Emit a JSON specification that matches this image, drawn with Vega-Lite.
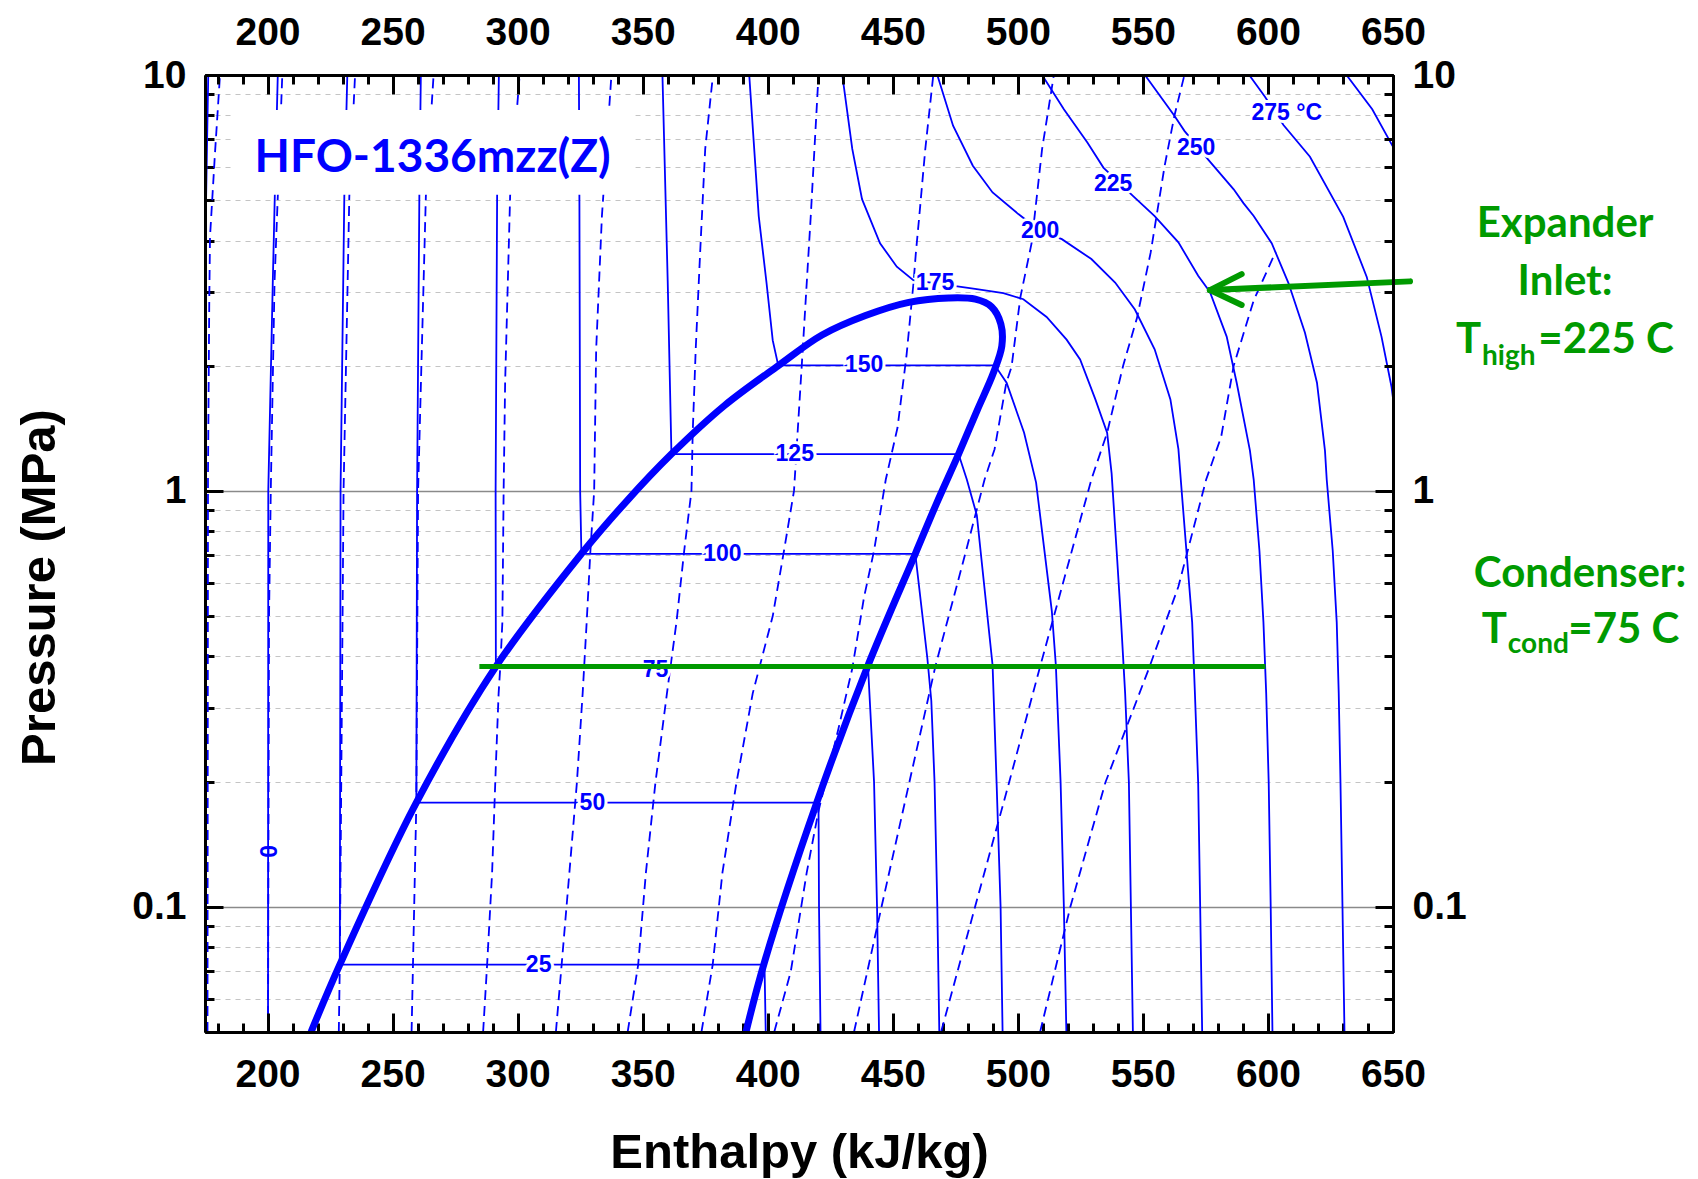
{
  "$schema": "https://vega.github.io/schema/vega-lite/v6.json",
  "width": 1188,
  "height": 957,
  "autosize": "none",
  "padding": {"left": 205, "top": 75, "right": 305, "bottom": 147},
  "background": "white",
  "config": {
    "view": {"stroke": null},
    "axis": {
      "domainColor": "#000000", "domainWidth": 3, "tickColor": "#000000", "tickWidth": 3,
      "labelFont": "Liberation Sans", "labelFontWeight": "bold", "labelFontSize": 39, "labelColor": "#000000",
      "titleFont": "Liberation Sans", "titleFontWeight": "bold", "titleFontSize": 49, "titleColor": "#000000",
      "labelOverlap": false, "labelFlush": false, "labelBound": false
    }
  },
  "datasets": {
    "curves": [
      {"k":"t","g":"-25","i":0,"h":174.8,"P":0.05},{"k":"t","g":"-25","i":1,"h":175.0,"P":1},{"k":"t","g":"-25","i":2,"h":175.4,"P":4.9},{"k":"t","g":"-25","i":3,"h":176.3,"P":10},
      {"k":"t","g":"0","i":0,"h":200.2,"P":0.05},{"k":"t","g":"0","i":1,"h":200.3,"P":1},{"k":"t","g":"0","i":2,"h":202.1,"P":3.17},{"k":"t","g":"0","i":3,"h":202.9,"P":5.1},{"k":"t","g":"0","i":4,"h":204.1,"P":10},
      {"k":"t","g":"25","i":0,"h":231.9,"P":10},{"k":"t","g":"25","i":1,"h":230.7,"P":5.1},{"k":"t","g":"25","i":2,"h":229.2,"P":1},{"k":"t","g":"25","i":3,"h":228.9,"P":0.0726},{"k":"t","g":"25","i":4,"h":398.7,"P":0.0726},{"k":"t","g":"25","i":5,"h":399.2,"P":0.05},
      {"k":"t","g":"50","i":0,"h":261.3,"P":10},{"k":"t","g":"50","i":1,"h":260.7,"P":5.1},{"k":"t","g":"50","i":2,"h":259.8,"P":1},{"k":"t","g":"50","i":3,"h":259.5,"P":0.178},{"k":"t","g":"50","i":4,"h":420.3,"P":0.178},{"k":"t","g":"50","i":5,"h":420.5,"P":0.1},{"k":"t","g":"50","i":6,"h":421.1,"P":0.05},
      {"k":"t","g":"75","i":0,"h":292.5,"P":10},{"k":"t","g":"75","i":1,"h":291.8,"P":5.1},{"k":"t","g":"75","i":2,"h":291.2,"P":1},{"k":"t","g":"75","i":3,"h":291.3,"P":0.378},{"k":"t","g":"75","i":4,"h":440.1,"P":0.378},{"k":"t","g":"75","i":5,"h":442.5,"P":0.2},{"k":"t","g":"75","i":6,"h":443.7,"P":0.1},{"k":"t","g":"75","i":7,"h":444.5,"P":0.05},
      {"k":"t","g":"100","i":0,"h":324.5,"P":10},{"k":"t","g":"100","i":1,"h":324.7,"P":5},{"k":"t","g":"100","i":2,"h":325.0,"P":1},{"k":"t","g":"100","i":3,"h":325.5,"P":0.706},{"k":"t","g":"100","i":4,"h":459.0,"P":0.706},{"k":"t","g":"100","i":5,"h":463.8,"P":0.397},{"k":"t","g":"100","i":6,"h":465.4,"P":0.313},{"k":"t","g":"100","i":7,"h":466.7,"P":0.199},{"k":"t","g":"100","i":8,"h":467.8,"P":0.1},{"k":"t","g":"100","i":9,"h":468.6,"P":0.05},
      {"k":"t","g":"125","i":0,"h":357.9,"P":10},{"k":"t","g":"125","i":1,"h":360.0,"P":3.2},{"k":"t","g":"125","i":2,"h":361.5,"P":1.226},{"k":"t","g":"125","i":3,"h":476.3,"P":1.226},{"k":"t","g":"125","i":4,"h":479.6,"P":1.065},{"k":"t","g":"125","i":5,"h":483.6,"P":0.874},{"k":"t","g":"125","i":6,"h":489.9,"P":0.381},{"k":"t","g":"125","i":7,"h":491.5,"P":0.199},{"k":"t","g":"125","i":8,"h":493.1,"P":0.1},{"k":"t","g":"125","i":9,"h":493.9,"P":0.05},
      {"k":"t","g":"150","i":0,"h":392.6,"P":10},{"k":"t","g":"150","i":1,"h":396.4,"P":4.58},{"k":"t","g":"150","i":2,"h":399.5,"P":3.17},{"k":"t","g":"150","i":3,"h":402.0,"P":2.3},{"k":"t","g":"150","i":4,"h":404.2,"P":2.004},{"k":"t","g":"150","i":5,"h":490.8,"P":2.004},{"k":"t","g":"150","i":6,"h":495.5,"P":1.82},{"k":"t","g":"150","i":7,"h":502.5,"P":1.38},{"k":"t","g":"150","i":8,"h":507.3,"P":1.047},{"k":"t","g":"150","i":9,"h":513.6,"P":0.513},{"k":"t","g":"150","i":10,"h":515.2,"P":0.381},{"k":"t","g":"150","i":11,"h":517.1,"P":0.199},{"k":"t","g":"150","i":12,"h":518.4,"P":0.1},{"k":"t","g":"150","i":13,"h":519.4,"P":0.05},
      {"k":"t","g":"175","i":0,"h":429.8,"P":10},{"k":"t","g":"175","i":1,"h":433.8,"P":6.64},{"k":"t","g":"175","i":2,"h":437.7,"P":5.03},{"k":"t","g":"175","i":3,"h":444.9,"P":3.94},{"k":"t","g":"175","i":4,"h":451.6,"P":3.46},{"k":"t","g":"175","i":5,"h":458.2,"P":3.21},{"k":"t","g":"175","i":6,"h":482.9,"P":3.06},{"k":"t","g":"175","i":7,"h":494.2,"P":2.99},{"k":"t","g":"175","i":8,"h":502.2,"P":2.89},{"k":"t","g":"175","i":9,"h":511.5,"P":2.62},{"k":"t","g":"175","i":10,"h":519.5,"P":2.31},{"k":"t","g":"175","i":11,"h":524.9,"P":2.07},{"k":"t","g":"175","i":12,"h":531.0,"P":1.66},{"k":"t","g":"175","i":13,"h":535.7,"P":1.38},{"k":"t","g":"175","i":14,"h":537.5,"P":1.1},{"k":"t","g":"175","i":15,"h":539.5,"P":0.718},{"k":"t","g":"175","i":16,"h":541.3,"P":0.483},{"k":"t","g":"175","i":17,"h":542.9,"P":0.326},{"k":"t","g":"175","i":18,"h":544.4,"P":0.199},{"k":"t","g":"175","i":19,"h":545.2,"P":0.1},{"k":"t","g":"175","i":20,"h":546.0,"P":0.05},
      {"k":"t","g":"200","i":0,"h":467.8,"P":10},{"k":"t","g":"200","i":1,"h":474.1,"P":7.55},{"k":"t","g":"200","i":2,"h":482.0,"P":6.05},{"k":"t","g":"200","i":3,"h":489.9,"P":5.22},{"k":"t","g":"200","i":4,"h":500.2,"P":4.63},{"k":"t","g":"200","i":5,"h":508.9,"P":4.22},{"k":"t","g":"200","i":6,"h":517.6,"P":4.03},{"k":"t","g":"200","i":7,"h":529.4,"P":3.61},{"k":"t","g":"200","i":8,"h":538.9,"P":3.17},{"k":"t","g":"200","i":9,"h":546.8,"P":2.73},{"k":"t","g":"200","i":10,"h":554.7,"P":2.19},{"k":"t","g":"200","i":11,"h":561.0,"P":1.66},{"k":"t","g":"200","i":12,"h":564.2,"P":1.26},{"k":"t","g":"200","i":13,"h":565.5,"P":1.0},{"k":"t","g":"200","i":14,"h":567.4,"P":0.718},{"k":"t","g":"200","i":15,"h":569.7,"P":0.483},{"k":"t","g":"200","i":16,"h":570.8,"P":0.326},{"k":"t","g":"200","i":17,"h":572.1,"P":0.199},{"k":"t","g":"200","i":18,"h":572.9,"P":0.1},{"k":"t","g":"200","i":19,"h":573.7,"P":0.05},
      {"k":"t","g":"225","i":0,"h":509.7,"P":10},{"k":"t","g":"225","i":1,"h":518.4,"P":8.27},{"k":"t","g":"225","i":2,"h":527.8,"P":6.88},{"k":"t","g":"225","i":3,"h":534.2,"P":5.99},{"k":"t","g":"225","i":4,"h":546.0,"P":5.12},{"k":"t","g":"225","i":5,"h":554.7,"P":4.58},{"k":"t","g":"225","i":6,"h":564.2,"P":3.96},{"k":"t","g":"225","i":7,"h":572.1,"P":3.29},{"k":"t","g":"225","i":8,"h":576.8,"P":3.01},{"k":"t","g":"225","i":9,"h":583.5,"P":2.35},{"k":"t","g":"225","i":10,"h":587.5,"P":1.82},{"k":"t","g":"225","i":11,"h":592.8,"P":1.25},{"k":"t","g":"225","i":12,"h":594.3,"P":1.065},{"k":"t","g":"225","i":13,"h":596.6,"P":0.718},{"k":"t","g":"225","i":14,"h":598.2,"P":0.483},{"k":"t","g":"225","i":15,"h":599.3,"P":0.326},{"k":"t","g":"225","i":16,"h":600.3,"P":0.199},{"k":"t","g":"225","i":17,"h":601.1,"P":0.1},{"k":"t","g":"225","i":18,"h":601.8,"P":0.05},
      {"k":"t","g":"250","i":0,"h":550.8,"P":10},{"k":"t","g":"250","i":1,"h":562.6,"P":7.98},{"k":"t","g":"250","i":2,"h":566.6,"P":7.34},{"k":"t","g":"250","i":3,"h":576.2,"P":6.25},{"k":"t","g":"250","i":4,"h":586.3,"P":5.31},{"k":"t","g":"250","i":5,"h":590.2,"P":4.92},{"k":"t","g":"250","i":6,"h":594.3,"P":4.58},{"k":"t","g":"250","i":7,"h":601.5,"P":3.94},{"k":"t","g":"250","i":8,"h":608.2,"P":3.16},{"k":"t","g":"250","i":9,"h":614.8,"P":2.4},{"k":"t","g":"250","i":10,"h":616.8,"P":2.14},{"k":"t","g":"250","i":11,"h":619.6,"P":1.82},{"k":"t","g":"250","i":12,"h":622.8,"P":1.25},{"k":"t","g":"250","i":13,"h":623.5,"P":1.065},{"k":"t","g":"250","i":14,"h":625.9,"P":0.718},{"k":"t","g":"250","i":15,"h":627.5,"P":0.483},{"k":"t","g":"250","i":16,"h":628.3,"P":0.326},{"k":"t","g":"250","i":17,"h":629.0,"P":0.199},{"k":"t","g":"250","i":18,"h":629.8,"P":0.1},{"k":"t","g":"250","i":19,"h":630.6,"P":0.05},
      {"k":"t","g":"275","i":0,"h":592.5,"P":10},{"k":"t","g":"275","i":1,"h":598.8,"P":8.87},{"k":"t","g":"275","i":2,"h":606.2,"P":7.58},{"k":"t","g":"275","i":3,"h":616.8,"P":6.36},{"k":"t","g":"275","i":4,"h":630.1,"P":4.56},{"k":"t","g":"275","i":5,"h":639.5,"P":3.27},{"k":"t","g":"275","i":6,"h":645.4,"P":2.35},{"k":"t","g":"275","i":7,"h":649.4,"P":1.78},{"k":"t","g":"275","i":8,"h":650.3,"P":1.62},
      {"k":"t","g":"300","i":0,"h":631.4,"P":10},{"k":"t","g":"300","i":1,"h":641.7,"P":8.27},{"k":"t","g":"300","i":2,"h":650.3,"P":6.67},
      {"k":"s","g":"0.9","i":0,"h":176.0,"P":0.05},{"k":"s","g":"0.9","i":1,"h":176.2,"P":1.1},{"k":"s","g":"0.9","i":2,"h":176.7,"P":2.83},{"k":"s","g":"0.9","i":3,"h":177.0,"P":4.08},{"k":"s","g":"0.9","i":4,"h":179.0,"P":6.5},{"k":"s","g":"0.9","i":5,"h":181.0,"P":10},
      {"k":"s","g":"1.0","i":0,"h":200.2,"P":0.05},{"k":"s","g":"1.0","i":1,"h":200.6,"P":0.5},{"k":"s","g":"1.0","i":2,"h":201.3,"P":1},{"k":"s","g":"1.0","i":3,"h":202.8,"P":3.17},{"k":"s","g":"1.0","i":4,"h":204.1,"P":5.1},{"k":"s","g":"1.0","i":5,"h":205.9,"P":10},
      {"k":"s","g":"1.1","i":0,"h":228.5,"P":0.05},{"k":"s","g":"1.1","i":1,"h":228.9,"P":0.0726},{"k":"s","g":"1.1","i":2,"h":230.4,"P":1},{"k":"s","g":"1.1","i":3,"h":232.7,"P":5.1},{"k":"s","g":"1.1","i":4,"h":235.0,"P":10},
      {"k":"s","g":"1.2","i":0,"h":257.6,"P":0.05},{"k":"s","g":"1.2","i":1,"h":259.5,"P":0.178},{"k":"s","g":"1.2","i":2,"h":260.2,"P":1},{"k":"s","g":"1.2","i":3,"h":263.3,"P":5.1},{"k":"s","g":"1.2","i":4,"h":266.4,"P":10},
      {"k":"s","g":"1.3","i":0,"h":286.2,"P":0.05},{"k":"s","g":"1.3","i":1,"h":287.8,"P":0.0726},{"k":"s","g":"1.3","i":2,"h":289.8,"P":0.121},{"k":"s","g":"1.3","i":3,"h":291.3,"P":0.219},{"k":"s","g":"1.3","i":4,"h":292.4,"P":0.326},{"k":"s","g":"1.3","i":5,"h":293.1,"P":0.381},{"k":"s","g":"1.3","i":6,"h":293.9,"P":0.484},{"k":"s","g":"1.3","i":7,"h":294.4,"P":1},{"k":"s","g":"1.3","i":8,"h":295.0,"P":1.82},{"k":"s","g":"1.3","i":9,"h":297.0,"P":5.12},{"k":"s","g":"1.3","i":10,"h":300.8,"P":10},
      {"k":"s","g":"1.4","i":0,"h":315.3,"P":0.05},{"k":"s","g":"1.4","i":1,"h":317.6,"P":0.0726},{"k":"s","g":"1.4","i":2,"h":320.7,"P":0.121},{"k":"s","g":"1.4","i":3,"h":323.7,"P":0.199},{"k":"s","g":"1.4","i":4,"h":326.0,"P":0.326},{"k":"s","g":"1.4","i":5,"h":327.6,"P":0.483},{"k":"s","g":"1.4","i":6,"h":329.1,"P":0.718},{"k":"s","g":"1.4","i":7,"h":330.6,"P":1},{"k":"s","g":"1.4","i":8,"h":331.4,"P":2.19},{"k":"s","g":"1.4","i":9,"h":333.7,"P":4.58},{"k":"s","g":"1.4","i":10,"h":337.5,"P":10},
      {"k":"s","g":"1.5","i":0,"h":344.0,"P":0.05},{"k":"s","g":"1.5","i":1,"h":348.2,"P":0.0726},{"k":"s","g":"1.5","i":2,"h":351.3,"P":0.121},{"k":"s","g":"1.5","i":3,"h":355.1,"P":0.199},{"k":"s","g":"1.5","i":4,"h":359.7,"P":0.326},{"k":"s","g":"1.5","i":5,"h":363.5,"P":0.483},{"k":"s","g":"1.5","i":6,"h":366.6,"P":0.718},{"k":"s","g":"1.5","i":7,"h":369.5,"P":1},{"k":"s","g":"1.5","i":8,"h":370.0,"P":1.38},{"k":"s","g":"1.5","i":9,"h":371.2,"P":2.19},{"k":"s","g":"1.5","i":10,"h":373.0,"P":3.77},{"k":"s","g":"1.5","i":11,"h":375.0,"P":6.64},{"k":"s","g":"1.5","i":12,"h":378.1,"P":10},
      {"k":"s","g":"1.6","i":0,"h":373.5,"P":0.05},{"k":"s","g":"1.6","i":1,"h":378.0,"P":0.0726},{"k":"s","g":"1.6","i":2,"h":381.9,"P":0.121},{"k":"s","g":"1.6","i":3,"h":387.5,"P":0.199},{"k":"s","g":"1.6","i":4,"h":394.0,"P":0.326},{"k":"s","g":"1.6","i":5,"h":402.0,"P":0.5},{"k":"s","g":"1.6","i":6,"h":406.5,"P":0.718},{"k":"s","g":"1.6","i":7,"h":410.5,"P":1.0},{"k":"s","g":"1.6","i":8,"h":414.0,"P":2.19},{"k":"s","g":"1.6","i":9,"h":417.2,"P":4.58},{"k":"s","g":"1.6","i":10,"h":420.3,"P":10},
      {"k":"s","g":"1.7","i":0,"h":402.6,"P":0.05},{"k":"s","g":"1.7","i":1,"h":409.2,"P":0.0698},{"k":"s","g":"1.7","i":2,"h":415.6,"P":0.121},{"k":"s","g":"1.7","i":3,"h":420.3,"P":0.17},{"k":"s","g":"1.7","i":4,"h":428.2,"P":0.267},{"k":"s","g":"1.7","i":5,"h":433.8,"P":0.374},{"k":"s","g":"1.7","i":6,"h":438.5,"P":0.555},{"k":"s","g":"1.7","i":7,"h":442.5,"P":0.718},{"k":"s","g":"1.7","i":8,"h":447.2,"P":1.065},{"k":"s","g":"1.7","i":9,"h":451.9,"P":1.42},{"k":"s","g":"1.7","i":10,"h":455.5,"P":2.12},{"k":"s","g":"1.7","i":11,"h":458.3,"P":3.17},{"k":"s","g":"1.7","i":12,"h":459.2,"P":3.72},{"k":"s","g":"1.7","i":13,"h":460.6,"P":4.58},{"k":"s","g":"1.7","i":14,"h":463.0,"P":6.64},{"k":"s","g":"1.7","i":15,"h":466.2,"P":10},
      {"k":"s","g":"1.8","i":0,"h":434.5,"P":0.05},{"k":"s","g":"1.8","i":1,"h":445.5,"P":0.1},{"k":"s","g":"1.8","i":2,"h":456.6,"P":0.199},{"k":"s","g":"1.8","i":3,"h":467.0,"P":0.378},{"k":"s","g":"1.8","i":4,"h":479.3,"P":0.718},{"k":"s","g":"1.8","i":5,"h":486.7,"P":1.065},{"k":"s","g":"1.8","i":6,"h":490.7,"P":1.26},{"k":"s","g":"1.8","i":7,"h":495.4,"P":1.82},{"k":"s","g":"1.8","i":8,"h":497.5,"P":1.99},{"k":"s","g":"1.8","i":9,"h":501.0,"P":2.92},{"k":"s","g":"1.8","i":10,"h":505.5,"P":3.94},{"k":"s","g":"1.8","i":11,"h":509.7,"P":6.64},{"k":"s","g":"1.8","i":12,"h":514.4,"P":10},
      {"k":"s","g":"1.9","i":0,"h":469.3,"P":0.05},{"k":"s","g":"1.9","i":1,"h":482.9,"P":0.1},{"k":"s","g":"1.9","i":2,"h":496.5,"P":0.199},{"k":"s","g":"1.9","i":3,"h":508.9,"P":0.378},{"k":"s","g":"1.9","i":4,"h":521.6,"P":0.718},{"k":"s","g":"1.9","i":5,"h":529.4,"P":1.065},{"k":"s","g":"1.9","i":6,"h":535.7,"P":1.38},{"k":"s","g":"1.9","i":7,"h":542.1,"P":2.0},{"k":"s","g":"1.9","i":8,"h":547.6,"P":2.6},{"k":"s","g":"1.9","i":9,"h":553.1,"P":3.74},{"k":"s","g":"1.9","i":10,"h":558.7,"P":6.05},{"k":"s","g":"1.9","i":11,"h":562.6,"P":7.98},{"k":"s","g":"1.9","i":12,"h":566.6,"P":10},
      {"k":"s","g":"2.0","i":0,"h":508.9,"P":0.05},{"k":"s","g":"2.0","i":1,"h":521.0,"P":0.1},{"k":"s","g":"2.0","i":2,"h":535.0,"P":0.199},{"k":"s","g":"2.0","i":3,"h":552.4,"P":0.374},{"k":"s","g":"2.0","i":4,"h":564.2,"P":0.589},{"k":"s","g":"2.0","i":5,"h":575.3,"P":1.065},{"k":"s","g":"2.0","i":6,"h":581.3,"P":1.35},{"k":"s","g":"2.0","i":7,"h":586.3,"P":2.0},{"k":"s","g":"2.0","i":8,"h":594.3,"P":2.87},{"k":"s","g":"2.0","i":9,"h":603.1,"P":3.76},
      {"k":"d","g":"dome","i":0,"h":217.4,"P":0.05},{"k":"d","g":"dome","i":1,"h":228.9,"P":0.0726},{"k":"d","g":"dome","i":2,"h":259.5,"P":0.178},{"k":"d","g":"dome","i":3,"h":291.3,"P":0.378},{"k":"d","g":"dome","i":4,"h":325.5,"P":0.706},{"k":"d","g":"dome","i":5,"h":343.8,"P":0.948},{"k":"d","g":"dome","i":6,"h":361.5,"P":1.226},{"k":"d","g":"dome","i":7,"h":382.8,"P":1.606},{"k":"d","g":"dome","i":8,"h":404.4,"P":2.004},{"k":"d","g":"dome","i":9,"h":421.7,"P":2.37},{"k":"d","g":"dome","i":10,"h":439.1,"P":2.64},{"k":"d","g":"dome","i":11,"h":456.4,"P":2.84},{"k":"d","g":"dome","i":12,"h":472.4,"P":2.91},{"k":"d","g":"dome","i":13,"h":483.0,"P":2.89},{"k":"d","g":"dome","i":14,"h":489.5,"P":2.77},{"k":"d","g":"dome","i":15,"h":493.2,"P":2.52},{"k":"d","g":"dome","i":16,"h":493.6,"P":2.23},{"k":"d","g":"dome","i":17,"h":490.2,"P":1.92},{"k":"d","g":"dome","i":18,"h":483.7,"P":1.56},{"k":"d","g":"dome","i":19,"h":476.3,"P":1.226},{"k":"d","g":"dome","i":20,"h":467.6,"P":0.936},{"k":"d","g":"dome","i":21,"h":459.0,"P":0.706},{"k":"d","g":"dome","i":22,"h":439.9,"P":0.378},{"k":"d","g":"dome","i":23,"h":419.6,"P":0.178},{"k":"d","g":"dome","i":24,"h":398.6,"P":0.0733},{"k":"d","g":"dome","i":25,"h":391.3,"P":0.05}
    ],
    "box": [{"h":186,"h2":347,"P":5.15,"P2":8.24}],
    "tlabels": [
      {"t":"25","h":308.4,"P":0.0726},{"t":"50","h":329.9,"P":0.178},{"t":"75","h":355.1,"P":0.3704},{"t":"100","h":381.9,"P":0.706},{"t":"125","h":410.8,"P":1.226},{"t":"150","h":438.5,"P":2.004},{"t":"175","h":466.9,"P":3.17},{"t":"200","h":508.9,"P":4.22},{"t":"225","h":538.1,"P":5.47},{"t":"250","h":571.3,"P":6.69},{"t":"275 °C","h":607.5,"P":8.11}
    ],
    "zlabel": [{"t":"0","h":200.8,"P":0.136}],
    "cond": [{"g":"c","i":0,"h":284.7,"P":0.378},{"g":"c","i":1,"h":599.0,"P":0.378}],
    "arrow": [
      {"g":"shaft","i":0,"h":656.8,"P":3.19},{"g":"shaft","i":1,"h":576.8,"P":3.04},
      {"g":"arm1","i":0,"h":589.5,"P":3.32},{"g":"arm1","i":1,"h":576.8,"P":3.04},
      {"g":"arm2","i":0,"h":589.5,"P":2.8},{"g":"arm2","i":1,"h":576.8,"P":3.04}
    ],
    "title": [{"t":"HFO-1336mzz(Z)","h":194.8,"P":5.855}],
    "ncenter": [{"t":"Expander","h":718.8,"P":4.085},{"t":"Inlet:","h":718.8,"P":2.958},{"t":"Condenser:","h":724.8,"P":0.5884}],
    "nright": [{"t":"T","h":685.3,"P":2.142},{"t":"T","h":695.6,"P":0.43}],
    "nleft": [{"t":"=225 C","h":708.1,"P":2.142},{"t":"=75 C","h":720.1,"P":0.43}],
    "nsub": [{"t":"high","h":685.6,"P":2.008},{"t":"cond","h":695.9,"P":0.407}]
  },
  "layer": [
    {
      "data": {"name": "curves"},
      "transform": [{"filter": "datum.k === 's'"}],
      "mark": {"type": "line", "clip": true, "color": "#0000ff", "strokeWidth": 1.8, "strokeDash": [10, 6]},
      "encoding": {
        "x": {"field": "h", "type": "quantitative", "scale": {"domain": [175, 650], "nice": false, "zero": false},
              "axis": {"orient": "bottom", "values": [180,190,200,210,220,230,240,250,260,270,280,290,300,310,320,330,340,350,360,370,380,390,400,410,420,430,440,450,460,470,480,490,500,510,520,530,540,550,560,570,580,590,600,610,620,630,640,650],
                       "tickSize": -9, "labels": false, "title": null, "grid": false, "zindex": 0}},
        "y": {"field": "P", "type": "quantitative", "scale": {"type": "log", "domain": [0.05, 10], "nice": false},
              "axis": {"orient": "left", "values": [0.05,0.06,0.07,0.08,0.09,0.1,0.2,0.3,0.4,0.5,0.6,0.7,0.8,0.9,1,2,3,4,5,6,7,8,9,10],
                       "tickSize": -9, "labels": false, "title": null, "grid": true, "zindex": 0,
                       "gridColor": {"condition": {"test": "datum.value === 0.1 || datum.value === 1", "value": "#8a8a8a"}, "value": "#c4c4c4"},
                       "gridDash": {"condition": {"test": "datum.value === 0.1 || datum.value === 1", "value": []}, "value": [5, 5]},
                       "gridWidth": {"condition": {"test": "datum.value === 0.1 || datum.value === 1", "value": 1.5}, "value": 1.2}}},
        "detail": {"field": "g"},
        "order": {"field": "i"}
      }
    },
    {
      "data": {"name": "curves"},
      "transform": [{"filter": "datum.k === 't'"}],
      "mark": {"type": "line", "clip": true, "color": "#0000ff", "strokeWidth": 1.8},
      "encoding": {
        "x": {"field": "h", "type": "quantitative", "scale": {"domain": [175, 650], "nice": false, "zero": false},
              "axis": {"orient": "top", "values": [180,190,200,210,220,230,240,250,260,270,280,290,300,310,320,330,340,350,360,370,380,390,400,410,420,430,440,450,460,470,480,490,500,510,520,530,540,550,560,570,580,590,600,610,620,630,640,650],
                       "tickSize": -9, "labels": false, "title": null, "grid": false, "zindex": 1}},
        "y": {"field": "P", "type": "quantitative", "scale": {"type": "log", "domain": [0.05, 10], "nice": false},
              "axis": {"orient": "right", "values": [0.05,0.06,0.07,0.08,0.09,0.1,0.2,0.3,0.4,0.5,0.6,0.7,0.8,0.9,1,2,3,4,5,6,7,8,9,10],
                       "tickSize": -9, "labels": false, "title": null, "grid": false, "zindex": 1}},
        "detail": {"field": "g"},
        "order": {"field": "i"}
      }
    },
    {
      "data": {"name": "curves"},
      "transform": [{"filter": "datum.k === 'd'"}],
      "mark": {"type": "line", "clip": true, "color": "#0000ff", "strokeWidth": 7, "interpolate": "catmull-rom", "strokeJoin": "round"},
      "encoding": {
        "x": {"field": "h", "type": "quantitative", "scale": {"domain": [175, 650], "nice": false, "zero": false},
              "axis": {"orient": "bottom", "values": [200,250,300,350,400,450,500,550,600,650], "tickSize": -19,
                       "labelBaseline": "alphabetic", "labelPadding": 73, "grid": false, "zindex": 1,
                       "title": "Enthalpy (kJ/kg)", "titleX": 594, "titleY": 135, "titleBaseline": "alphabetic", "titleAlign": "center"}},
        "y": {"field": "P", "type": "quantitative", "scale": {"type": "log", "domain": [0.05, 10], "nice": false},
              "axis": {"orient": "left", "values": [0.1, 1, 10], "format": "~g", "tickSize": -18, "labelPadding": 37, "grid": false, "zindex": 1,
                       "title": "Pressure (MPa)", "titleX": -151, "titleY": 512, "titleAngle": 270, "titleAlign": "center", "titleBaseline": "alphabetic"}},
        "detail": {"field": "g"},
        "order": {"field": "i"}
      }
    },
    {
      "data": {"name": "box"},
      "mark": {"type": "rect", "color": "white", "opacity": 1},
      "encoding": {
        "x": {"field": "h", "type": "quantitative", "scale": {"domain": [175, 650], "nice": false, "zero": false},
              "axis": {"orient": "top", "values": [200,250,300,350,400,450,500,550,600,650], "tickSize": -19,
                       "labelBaseline": "alphabetic", "labelPadding": 50, "grid": false, "zindex": 1, "title": null}},
        "x2": {"field": "h2"},
        "y": {"field": "P", "type": "quantitative", "scale": {"type": "log", "domain": [0.05, 10], "nice": false},
              "axis": {"orient": "right", "values": [0.1, 1, 10], "format": "~g", "tickSize": -18, "labelPadding": 37, "grid": false, "zindex": 1, "title": null}},
        "y2": {"field": "P2"}
      }
    },
    {
      "data": {"name": "title"},
      "mark": {"type": "text", "align": "left", "baseline": "alphabetic", "font": "Lato", "fontWeight": "bold", "fontSize": 46, "color": "#0000ff"},
      "encoding": {
        "x": {"field": "h", "type": "quantitative", "axis": null},
        "y": {"field": "P", "type": "quantitative", "axis": null},
        "text": {"field": "t"}
      }
    },
    {
      "data": {"name": "tlabels"},
      "mark": {"type": "text", "align": "center", "baseline": "middle", "font": "Liberation Sans", "fontWeight": "bold", "fontSize": 23, "fill": "white", "stroke": "white", "strokeWidth": 6},
      "encoding": {
        "x": {"field": "h", "type": "quantitative", "axis": null},
        "y": {"field": "P", "type": "quantitative", "axis": null},
        "text": {"field": "t"}
      }
    },
    {
      "data": {"name": "tlabels"},
      "mark": {"type": "text", "align": "center", "baseline": "middle", "font": "Liberation Sans", "fontWeight": "bold", "fontSize": 23, "fill": "#0000ff"},
      "encoding": {
        "x": {"field": "h", "type": "quantitative", "axis": null},
        "y": {"field": "P", "type": "quantitative", "axis": null},
        "text": {"field": "t"}
      }
    },
    {
      "data": {"name": "zlabel"},
      "mark": {"type": "text", "align": "center", "baseline": "middle", "angle": 270, "font": "Liberation Sans", "fontWeight": "bold", "fontSize": 23, "fill": "#0000ff"},
      "encoding": {
        "x": {"field": "h", "type": "quantitative", "axis": null},
        "y": {"field": "P", "type": "quantitative", "axis": null},
        "text": {"field": "t"}
      }
    },
    {
      "data": {"name": "cond"},
      "mark": {"type": "line", "clip": false, "color": "#009a00", "strokeWidth": 5},
      "encoding": {
        "x": {"field": "h", "type": "quantitative", "axis": null},
        "y": {"field": "P", "type": "quantitative", "axis": null},
        "detail": {"field": "g"},
        "order": {"field": "i"}
      }
    },
    {
      "data": {"name": "arrow"},
      "mark": {"type": "line", "clip": false, "color": "#009a00", "strokeWidth": 6, "strokeCap": "round"},
      "encoding": {
        "x": {"field": "h", "type": "quantitative", "axis": null},
        "y": {"field": "P", "type": "quantitative", "axis": null},
        "detail": {"field": "g"},
        "order": {"field": "i"}
      }
    },
    {
      "data": {"name": "ncenter"},
      "mark": {"type": "text", "align": "center", "baseline": "alphabetic", "font": "Lato", "fontWeight": "bold", "fontSize": 42, "color": "#009a00"},
      "encoding": {
        "x": {"field": "h", "type": "quantitative", "axis": null},
        "y": {"field": "P", "type": "quantitative", "axis": null},
        "text": {"field": "t"}
      }
    },
    {
      "data": {"name": "nright"},
      "mark": {"type": "text", "align": "right", "baseline": "alphabetic", "font": "Lato", "fontWeight": "bold", "fontSize": 42, "color": "#009a00"},
      "encoding": {
        "x": {"field": "h", "type": "quantitative", "axis": null},
        "y": {"field": "P", "type": "quantitative", "axis": null},
        "text": {"field": "t"}
      }
    },
    {
      "data": {"name": "nleft"},
      "mark": {"type": "text", "align": "left", "baseline": "alphabetic", "font": "Lato", "fontWeight": "bold", "fontSize": 42, "color": "#009a00"},
      "encoding": {
        "x": {"field": "h", "type": "quantitative", "axis": null},
        "y": {"field": "P", "type": "quantitative", "axis": null},
        "text": {"field": "t"}
      }
    },
    {
      "data": {"name": "nsub"},
      "mark": {"type": "text", "align": "left", "baseline": "alphabetic", "font": "Lato", "fontWeight": "bold", "fontSize": 28, "color": "#009a00"},
      "encoding": {
        "x": {"field": "h", "type": "quantitative", "axis": null},
        "y": {"field": "P", "type": "quantitative", "axis": null},
        "text": {"field": "t"}
      }
    }
  ],
  "resolve": {"axis": {"x": "independent", "y": "independent"}}
}
